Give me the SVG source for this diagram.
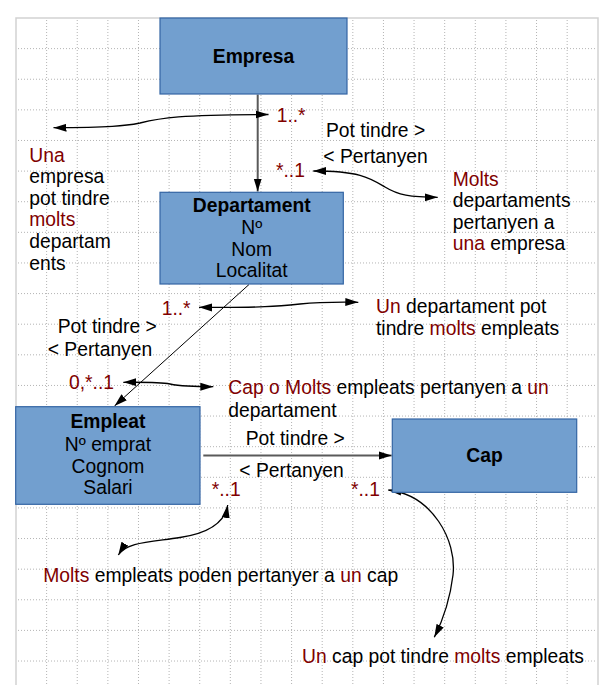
<svg xmlns="http://www.w3.org/2000/svg" width="606" height="685" viewBox="0 0 606 685">
<defs>
<marker id="ah" markerUnits="userSpaceOnUse" markerWidth="14" markerHeight="10" viewBox="0 0 14 10" refX="13" refY="5" orient="auto-start-reverse">
<path d="M0,1 L13,5 L0,9 z" fill="#000"/>
</marker>
</defs>
<style>
.grid{fill:none;stroke:#b4b4b4;stroke-width:1;stroke-dasharray:1 2}
.box{fill:#729fcf;stroke:#3465a4;stroke-width:1.2}
text{font-family:"Liberation Sans",Arial,sans-serif;font-size:19.3px;fill:#000}
.b{font-weight:bold}
.c{text-anchor:middle}
.r{fill:#800000}
.conn{fill:none;stroke:#5a5a5a;stroke-width:2}
.thin{fill:none;stroke:#000;stroke-width:1}
.note{fill:none;stroke:#000;stroke-width:1.3}
</style>
<rect x="16" y="18" width="582" height="700" fill="#fff" stroke="#d2d2d2" stroke-width="1.5"/>
<path class="grid" d="M46.62,20V685 M77.24,20V685 M107.86,20V685 M138.48,20V685 M169.1,20V685 M199.72,20V685 M230.34,20V685 M260.96,20V685 M291.58,20V685 M322.2,20V685 M352.82,20V685 M383.44,20V685 M414.06,20V685 M444.68,20V685 M475.3,20V685 M505.92,20V685 M536.54,20V685 M567.16,20V685 M18,48.62H597 M18,79.24H597 M18,109.86H597 M18,140.48H597 M18,171.1H597 M18,201.72H597 M18,232.34H597 M18,262.96H597 M18,293.58H597 M18,324.2H597 M18,354.82H597 M18,385.44H597 M18,416.06H597 M18,446.68H597 M18,477.3H597 M18,507.92H597 M18,538.54H597 M18,569.16H597 M18,599.78H597 M18,630.4H597 M18,661.02H597"/>

<g id="connectors">
<path class="conn" d="M257.7,94.5 V191.5" marker-end="url(#ah)"/>
<path class="thin" d="M249,284.5 L114.5,406" marker-end="url(#ah)"/>
<path class="conn" d="M203.3,455.5 H391.7" marker-end="url(#ah)"/>
<path class="note" d="M53.5,127.7 C110,127.5 125,126 140,123 C160,118 180,114.5 268.5,114.5" marker-start="url(#ah)" marker-end="url(#ah)"/>
<path class="note" d="M313.3,171 C360,171 370,178 385,187 C398,195 410,197.3 437.7,197.3" marker-start="url(#ah)" marker-end="url(#ah)"/>
<path class="note" d="M199,307.3 C260,308 280,306 300,304 C320,302 340,302 358.3,302.3" marker-start="url(#ah)" marker-end="url(#ah)"/>
<path class="note" d="M123.3,382.3 C150,382 160,382 170,384 C180,386 195,386.7 213.3,386.7" marker-start="url(#ah)" marker-end="url(#ah)"/>
<path class="note" d="M227.7,505 C225,522 210,533 180,537.5 C150,542 126,542 118.3,555" marker-start="url(#ah)" marker-end="url(#ah)"/>
<path class="note" d="M388.3,490 C432,495 457,540 453,575 C450,600 443,620 434.3,637.3" marker-start="url(#ah)" marker-end="url(#ah)"/>
</g>

<g id="empresa">
<rect class="box" x="160" y="18" width="187" height="76"/>
<text class="b c" x="253.5" y="62.5">Empresa</text>
</g>
<g id="departament">
<rect class="box" x="160" y="192.3" width="183.3" height="91.7"/>
<text class="b c" x="251.7" y="211.7">Departament</text>
<text class="c" x="251.7" y="234">Nº</text>
<text class="c" x="251.7" y="255.7">Nom</text>
<text class="c" x="251.7" y="276.7">Localitat</text>
</g>
<g id="empleat">
<rect class="box" x="15.7" y="406.7" width="184.3" height="97.6"/>
<text class="b c" x="108" y="428.3">Empleat</text>
<text class="c" x="108" y="451">Nº emprat</text>
<text class="c" x="108" y="472.7">Cognom</text>
<text class="c" x="108" y="494">Salari</text>
</g>
<g id="cap">
<rect class="box" x="392.3" y="419" width="184.4" height="73.3"/>
<text class="b c" x="484.5" y="461.7">Cap</text>
</g>

<g id="labels">
<text class="r" x="276.7" y="121.7">1..*</text>
<text x="326" y="136.7">Pot tindre &gt;</text>
<text x="323.3" y="162.7">&lt; Pertanyen</text>
<text class="r" x="276" y="177.3">*..1</text>
<text class="r" x="161.7" y="315">1..*</text>
<text x="57.7" y="332.7">Pot tindre &gt;</text>
<text x="47.7" y="355.7">&lt; Pertanyen</text>
<text class="r" x="69" y="389">0,*..1</text>
<text x="245.7" y="445">Pot tindre &gt;</text>
<text x="239.3" y="476.7">&lt; Pertanyen</text>
<text class="r" x="211.7" y="495.7">*..1</text>
<text class="r" x="351" y="495.7">*..1</text>
</g>

<g id="notes">
<text x="29.3" y="161.7" class="r">Una</text>
<text x="29.3" y="183.3">empresa</text>
<text x="29.3" y="205">pot tindre</text>
<text x="29.3" y="226" class="r">molts</text>
<text x="29.3" y="248.3">departam</text>
<text x="29.3" y="270">ents</text>
<text x="452.7" y="186" class="r">Molts</text>
<text x="452.7" y="207.3">departaments</text>
<text x="452.7" y="229">pertanyen a</text>
<text x="452.7" y="250"><tspan class="r">una</tspan> empresa</text>
<text x="376" y="313"><tspan class="r">Un</tspan> departament pot</text>
<text x="376" y="334.6">tindre <tspan class="r">molts</tspan> empleats</text>
<text x="228.3" y="394"><tspan class="r">Cap o Molts</tspan> empleats pertanyen a <tspan class="r">un</tspan></text>
<text x="228.3" y="416.7">departament</text>
<text x="43.3" y="581.7"><tspan class="r">Molts</tspan> empleats poden pertanyer a <tspan class="r">un</tspan> cap</text>
<text x="302" y="663.3"><tspan class="r">Un</tspan> cap pot tindre <tspan class="r">molts</tspan> empleats</text>
</g>
</svg>
